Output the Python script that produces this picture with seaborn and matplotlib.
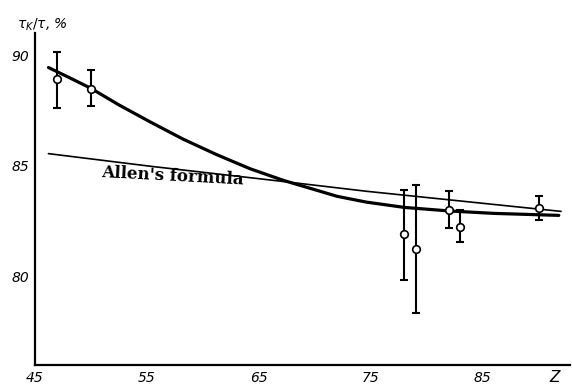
import matplotlib
matplotlib.use("Agg")
import matplotlib.pyplot as plt
import seaborn as sns
import pandas as pd
import numpy as np

# Data
z_pts = [47, 50, 78, 79, 82, 83, 90]
ratio_pts = [88.9, 88.45, 81.9, 81.25, 83.0, 82.25, 83.1]
err_up = [1.25, 0.9, 2.0, 2.9, 0.85, 0.75, 0.55]
err_dn = [1.3, 0.75, 2.05, 2.9, 0.8, 0.7, 0.55]

curve_z = [46.2, 48.0, 50.0, 52.5, 55.3, 58.25, 61.25, 64.2, 67.2, 70.2, 72.0, 74.6, 78.0, 82.0, 86.0, 91.8]
curve_v = [89.44, 89.0, 88.5, 87.75, 86.98, 86.2, 85.5, 84.87, 84.34, 83.89, 83.62, 83.36, 83.12, 82.96, 82.85, 82.76]

allen_z = [46.2, 55.3, 67.2, 74.6, 92.0]
allen_v = [85.55, 84.98, 84.29, 83.85, 82.94]

x_ticks = [45, 55, 65, 75, 85]
x_ticklabels = ["45", "55", "65", "75", "85"]
y_ticks = [80, 85, 90]
y_ticklabels = ["80", "85", "90"]

sns.set_theme(style="white")
plt.rcParams['font.family'] = ['DejaVu Sans']
plt.rcParams['text.color'] = 'black'

fig = plt.figure(figsize=(5.72, 3.85), dpi=100)
ax = fig.add_axes([35/572, 1-365/385, (570-35)/572, (365-33)/385])

df_curve = pd.DataFrame({"z": curve_z, "v": curve_v})
df_allen = pd.DataFrame({"z": allen_z, "v": allen_v})
sns.lineplot(data=df_curve, x="z", y="v", ax=ax, color="black", lw=2.3, sort=False)
sns.lineplot(data=df_allen, x="z", y="v", ax=ax, color="black", lw=1.2, sort=False)

ax.errorbar(z_pts, ratio_pts, yerr=[err_dn, err_up], fmt="none", ecolor="black",
            elinewidth=1.5, capsize=3, capthick=1.5, zorder=3)
df_pts = pd.DataFrame({"z": z_pts, "v": ratio_pts})
sns.scatterplot(data=df_pts, x="z", y="v", ax=ax, s=30, facecolor="white",
                edgecolor="black", linewidth=1.2, zorder=4)

ax.set_xlim(45, 92.8)
ax.set_ylim(76, 91)
ax.set_xticks(x_ticks)
ax.set_xticklabels(x_ticklabels, fontstyle="italic", fontsize=10)
ax.set_yticks(y_ticks)
ax.set_yticklabels(y_ticklabels, fontstyle="italic", fontsize=10)
ax.tick_params(direction="in", length=5, width=1.2, colors="black",
               labelcolor="black", pad=4)
ax.set_xlabel("")
ax.set_ylabel("")
for s in ["top", "right"]:
    ax.spines[s].set_visible(False)
for s in ["left", "bottom"]:
    ax.spines[s].set_color("black")
    ax.spines[s].set_linewidth(1.6)

ax.text((555-35)/535, -0.015, "Z", transform=ax.transAxes, ha="center", va="top",
        fontsize=11, fontstyle="italic", color="black")
fig.text(17/572, 1-25/385, r"$\tau_K/\tau$, %", ha="left", va="center",
         fontsize=10, fontstyle="italic", color="black")
ax.text(57.3, 84.55, "Allen's formula", fontsize=12, fontweight="bold",
        family="DejaVu Serif", rotation=-3, ha="center", va="center", color="black")

fig.savefig("out.png", dpi=100)
